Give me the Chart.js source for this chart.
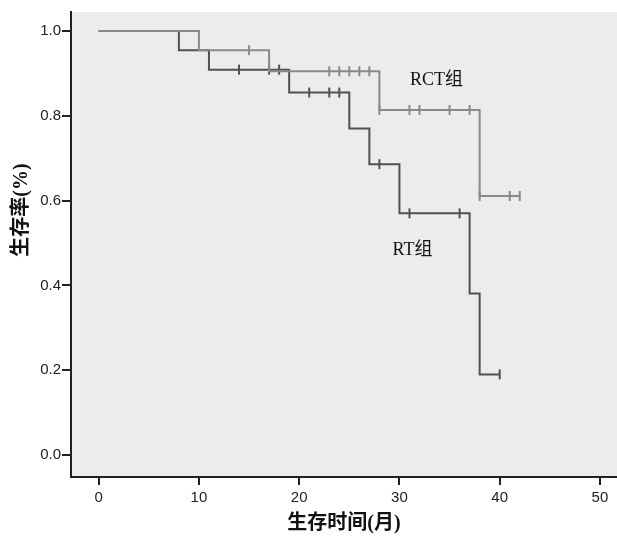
<!DOCTYPE html>
<html>
<head>
<meta charset="utf-8">
<script src="https://cdn.jsdelivr.net/npm/chart.js@4/dist/chart.umd.min.js"></script>
<style>
  body { margin: 0; background: #fff; }
  canvas { display: block; }
</style>
</head>
<body>
<canvas id="kmChart" width="617" height="536"></canvas>
<script>
// survival steps (time in months, survival fraction)
const rtTimes = [0, 8, 11, 19, 25, 27, 30, 37, 38, 40];
const rtSurv = [1.0, 0.955, 0.909, 0.855, 0.770, 0.686, 0.570, 0.381, 0.190, 0.190];
const rtCensorTimes = [14, 17, 18, 21, 23, 24, 28, 31, 36, 40];
const rtCensorSurv = [0.909, 0.909, 0.909, 0.855, 0.855, 0.855, 0.686, 0.570, 0.570, 0.190];

const rctTimes = [0, 10, 17, 28, 38, 42];
const rctSurv = [1.0, 0.955, 0.905, 0.814, 0.611, 0.611];
const rctCensorTimes = [15, 23, 24, 25, 26, 27, 28, 31, 32, 35, 37, 38, 41, 42];
const rctCensorSurv = [0.955, 0.905, 0.905, 0.905, 0.905, 0.905, 0.814, 0.814, 0.814, 0.814, 0.814, 0.611, 0.611, 0.611];

const xTicks = [0, 10, 20, 30, 40, 50];
const yTicks = [0.0, 0.2, 0.4, 0.6, 0.8, 1.0];

const groupLabels = ['RCT组', 'RT组'];
const xTitle = '生存时间(月)';
const yTitle = '生存率(%)';

const rtColor = '#505050';
const rctColor = '#8a8a8a';

function toPoints(xs, ys){
  return xs.map((x, i) => ({x: x, y: ys[i]}));
}

// gray plot background + group labels + y title
const plotDecor = {
  id: 'plotDecor',
  beforeDraw(chart){
    const a = chart.chartArea;
    const ctx = chart.ctx;
    ctx.save();
    ctx.fillStyle = '#ececec';
    ctx.fillRect(a.left, a.top, chart.width - a.left, a.bottom - a.top);
    ctx.restore();
  },
  afterDraw(chart){
    const ctx = chart.ctx;
    const xs = chart.scales.x, ys = chart.scales.y;
    ctx.save();
    ctx.fillStyle = '#111';
    ctx.font = '18px "Liberation Serif", "Noto Sans CJK SC"';
    ctx.textAlign = 'center';
    ctx.textBaseline = 'middle';
    ctx.fillText(groupLabels[0], xs.getPixelForValue(33.7), ys.getPixelForValue(0.884));
    ctx.fillText(groupLabels[1], xs.getPixelForValue(31.3), ys.getPixelForValue(0.483));

    ctx.translate(22, 210);
    ctx.rotate(-Math.PI / 2);
    ctx.font = 'bold 20px "Liberation Serif", "Noto Sans CJK SC"';
    ctx.fillText(yTitle, 0, 0);
    ctx.restore();
  }
};

const ctx = document.getElementById('kmChart');

new Chart(ctx, {
  type: 'scatter',
  data: {
    datasets: [
      {
        label: 'RCT',
        data: toPoints(rctTimes, rctSurv),
        showLine: true,
        stepped: 'before',
        borderColor: rctColor,
        borderWidth: 2,
        pointRadius: 0
      },
      {
        label: 'RT',
        data: toPoints(rtTimes, rtSurv),
        showLine: true,
        stepped: 'before',
        borderColor: rtColor,
        borderWidth: 2,
        pointRadius: 0
      },
      {
        label: 'RCT censored',
        data: toPoints(rctCensorTimes, rctCensorSurv),
        pointStyle: 'line',
        rotation: 90,
        pointRadius: 5,
        borderColor: rctColor,
        borderWidth: 2
      },
      {
        label: 'RT censored',
        data: toPoints(rtCensorTimes, rtCensorSurv),
        pointStyle: 'line',
        rotation: 90,
        pointRadius: 5,
        borderColor: rtColor,
        borderWidth: 2
      }
    ]
  },
  options: {
    responsive: false,
    animation: false,
    devicePixelRatio: 1,
    layout: {
      autoPadding: false,
      padding: {top: 12, right: 0, bottom: 0, left: 0}
    },
    scales: {
      x: {
        type: 'linear',
        min: -2.76,
        max: 51.7,
        afterBuildTicks: (scale) => { scale.ticks = xTicks.map(v => ({value: v})); },
        afterFit: (scale) => {
          scale.height = 59;
          scale.paddingLeft = 0;
          scale.paddingRight = 0;
        },
        grid: {
          drawOnChartArea: false,
          color: '#222',
          lineWidth: 2,
          tickLength: 8
        },
        border: {color: '#222', width: 2},
        ticks: {
          color: '#222',
          padding: 4,
          maxRotation: 0,
          font: {family: 'Liberation Sans', size: 15}
        },
        title: {
          display: true,
          text: xTitle,
          color: '#111',
          padding: {top: 2, bottom: 0},
          font: {family: '"Liberation Serif", "Noto Sans CJK SC"', size: 20, weight: 'bold'}
        }
      },
      y: {
        type: 'linear',
        min: -0.052,
        max: 1.045,
        afterBuildTicks: (scale) => { scale.ticks = yTicks.map(v => ({value: v})); },
        afterFit: (scale) => { scale.width = 71; },
        grid: {
          drawOnChartArea: false,
          color: '#222',
          lineWidth: 2,
          tickLength: 9
        },
        border: {color: '#222', width: 2},
        ticks: {
          color: '#222',
          padding: 1,
          font: {family: 'Liberation Sans', size: 15},
          callback: (v) => Number(v).toFixed(1)
        }
      }
    },
    plugins: {
      legend: {display: false},
      tooltip: {enabled: false}
    }
  },
  plugins: [plotDecor]
});
</script>
</body>
</html>
